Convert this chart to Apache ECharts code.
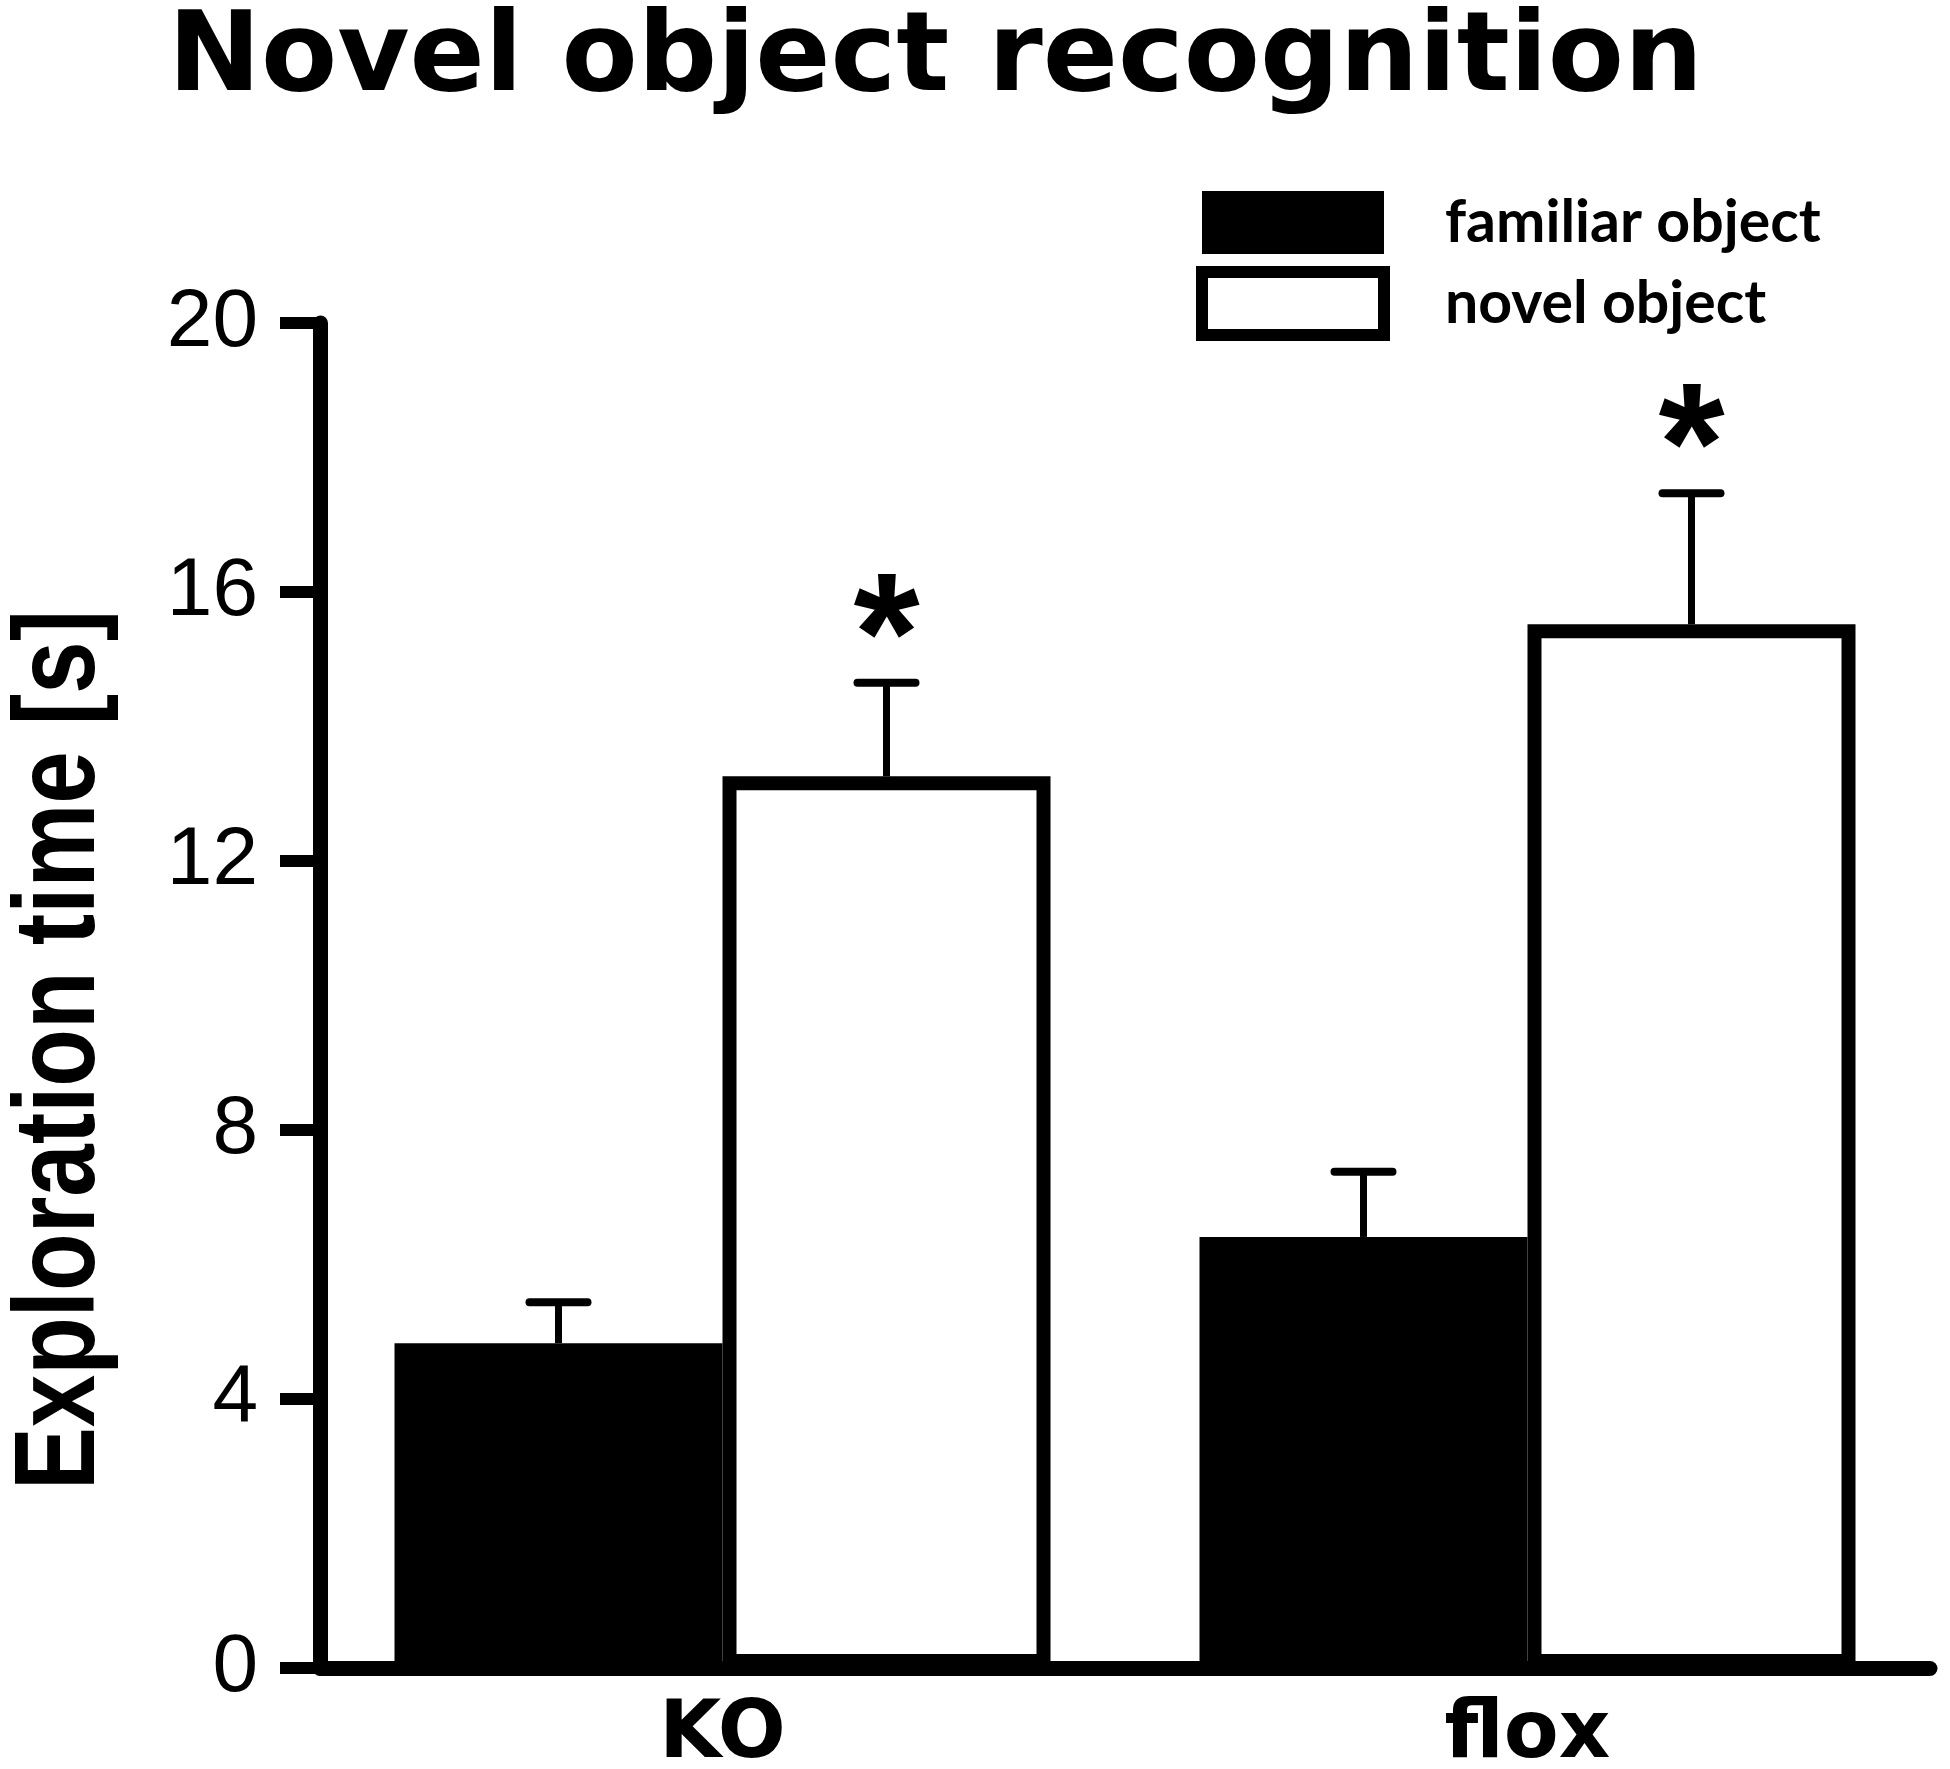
<!DOCTYPE html>
<html>
<head>
<meta charset="utf-8">
<script src="https://cdn.jsdelivr.net/npm/echarts@6/dist/echarts.min.js"></script>
<style>
html,body{margin:0;padding:0;background:#fff;}
#chart{width:1950px;height:1769px;}
</style>
</head>
<body>
<div id="chart"></div>
<script>
const categories = ['KO', 'flox'];
const familiarMeans = [4.83, 6.41];
const familiarErrors = [0.61, 0.97];
const novelMeans = [13.26, 15.52];
const novelErrors = [1.39, 1.95];
const novelSignificance = ['*', '*'];
const yAxisTitle = 'Exploration time [s]';
const yMin = 0, yMax = 20, yInterval = 4;

const BAR_WIDTH = 328;
const CAP_HALF = 29;
const STAR_GAP = 38;

function errorBarRenderer(offsetSign, sigs) {
  return function (params, api) {
    const idx = api.value(0);
    const mean = api.value(1);
    const err = api.value(2);
    const base = api.coord([idx, mean]);
    const top = api.coord([idx, mean + err]);
    const x = base[0] + offsetSign * BAR_WIDTH / 2;
    const children = [
      {type: 'line', shape: {x1: x, y1: base[1], x2: x, y2: top[1]}, style: {stroke: '#000', lineWidth: 7}},
      {type: 'line', shape: {x1: x - CAP_HALF, y1: top[1], x2: x + CAP_HALF, y2: top[1]}, style: {stroke: '#000', lineWidth: 8, lineCap: 'round'}}
    ];
    if (sigs && sigs[idx]) {
      children.push({
        type: 'text', x: x, y: top[1] - STAR_GAP,
        style: {text: sigs[idx], fill: '#000', font: 'bold 170px "Liberation Sans", Arial, sans-serif', align: 'center', verticalAlign: 'middle'}
      });
    }
    return {type: 'group', children: children};
  };
}

const chart = echarts.init(document.getElementById('chart'), null, {renderer: 'canvas'});
chart.setOption({
  backgroundColor: '#fff',
  animation: false,
  title: {
    text: 'Novel object recognition',
    left: 168, top: 6, padding: 0,
    textStyle: {fontFamily: '"DejaVu Sans", sans-serif', fontWeight: 'bold', fontSize: 111, color: '#000'}
  },
  legend: {
    orient: 'vertical',
    left: 1196, top: 185, padding: 0,
    itemWidth: 182, itemHeight: 63, itemGap: 6,
    icon: 'rect',
    selectedMode: false,
    textStyle: {fontFamily: 'Lato, sans-serif', fontWeight: 'bold', fontSize: 59, color: '#000', lineHeight: 63, padding: [12, 0, 0, 56]},
    data: [
      {name: 'familiar object', itemStyle: {color: '#000', borderWidth: 0}},
      {name: 'novel object', itemStyle: {color: '#fff', borderColor: '#000', borderWidth: 12}}
    ]
  },
  graphic: [{
    type: 'text',
    x: 62, y: 1050,
    rotation: Math.PI / 2,
    scaleX: 0.82,
    style: {text: yAxisTitle, fill: '#000', font: 'bold 115px "Liberation Sans", Arial, sans-serif', align: 'center', verticalAlign: 'middle'}
  }],
  grid: {left: 320, right: 20, top: 323, bottom: 101, containLabel: false, outerBoundsMode: 'none'},
  xAxis: {
    type: 'category',
    data: categories,
    axisLine: {lineStyle: {color: '#000', width: 15}},
    axisTick: {show: false},
    axisLabel: {color: '#000', fontFamily: '"DejaVu Sans", sans-serif', fontWeight: 'bold', fontSize: 80, margin: 28}
  },
  yAxis: {
    type: 'value',
    min: yMin, max: yMax, interval: yInterval,
    axisLine: {show: true, lineStyle: {color: '#000', width: 15}},
    axisTick: {show: true, length: 40, lineStyle: {color: '#000', width: 12}},
    axisLabel: {color: '#000', fontFamily: '"Liberation Sans", Arial, sans-serif', fontSize: 82, margin: 62},
    splitLine: {show: false}
  },
  series: [
    {
      name: 'familiar object', type: 'bar', data: familiarMeans,
      barWidth: BAR_WIDTH, barGap: '0%',
      itemStyle: {color: '#000'}
    },
    {
      name: 'novel object', type: 'bar', data: novelMeans,
      barWidth: BAR_WIDTH, barGap: '0%',
      itemStyle: {color: '#fff', borderColor: '#000', borderWidth: 14}
    },
    {
      name: 'familiar error', type: 'custom', z: 5,
      renderItem: errorBarRenderer(-1, null),
      data: categories.map((c, i) => [i, familiarMeans[i], familiarErrors[i]])
    },
    {
      name: 'novel error', type: 'custom', z: 5,
      renderItem: errorBarRenderer(1, novelSignificance),
      data: categories.map((c, i) => [i, novelMeans[i], novelErrors[i]])
    }
  ]
});
</script>
</body>
</html>
